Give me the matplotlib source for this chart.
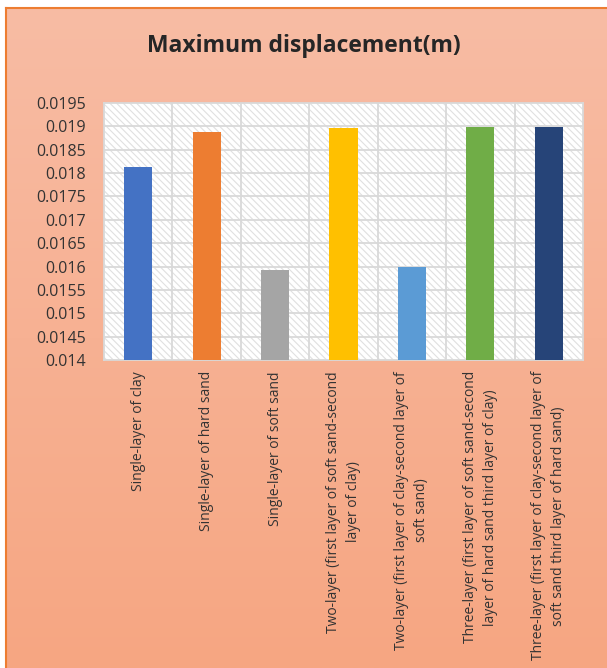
import numpy as np
import matplotlib
matplotlib.use('Agg')
from matplotlib import pyplot as plt
from matplotlib.patches import Rectangle
from matplotlib.lines import Line2D
from matplotlib.colors import LinearSegmentedColormap

categories = [
    "Single-layer of clay",
    "Single-layer of hard sand",
    "Single-layer of soft sand",
    "Two-layer (first layer of soft sand-second\nlayer of clay)",
    "Two-layer (first layer of clay-second layer of\nsoft sand)",
    "Three-layer (first layer of soft sand-second\nlayer of hard sand third layer of clay)",
    "Three-layer (first layer of clay-second layer of\nsoft sand third layer of hard sand)",
]
displacement = [0.01812, 0.01887, 0.01593, 0.01897, 0.01598, 0.01899, 0.01899]
barColors = ['#4472C4', '#ED7D31', '#A5A5A5', '#FFC000', '#5B9BD5', '#70AD47', '#264478']
yTicks = [0.014, 0.0145, 0.015, 0.0155, 0.016, 0.0165, 0.017, 0.0175, 0.018, 0.0185, 0.019, 0.0195]
yTickLabels = ['0.014', '0.0145', '0.015', '0.0155', '0.016', '0.0165', '0.017', '0.0175',
               '0.018', '0.0185', '0.019', '0.0195']

plt.rcParams['font.family'] = ['Open Sans', 'DejaVu Sans']
plt.rcParams['hatch.color'] = '#e0e0e0'
plt.rcParams['hatch.linewidth'] = 0.8

W, H = 607, 668
fig = plt.figure(figsize=(W / 100, H / 100), dpi=100)
fig.patch.set_facecolor('white')

# gradient chart area background
bg = fig.add_axes([6 / W, 0, 1 - 6 / W, 1 - 8 / H])
bg.set_axis_off()
cmap = LinearSegmentedColormap.from_list('peach', ['#F8BCA4', '#F6A682'])
bg.imshow(np.linspace(0, 1, 256).reshape(-1, 1), aspect='auto', cmap=cmap,
          extent=[0, 1, 0, 1], origin='upper')
fig.add_artist(Line2D([6 / W, 6 / W], [0, 1 - 8 / H], color='#ED7D31', lw=1.5, transform=fig.transFigure))
fig.add_artist(Line2D([6 / W, 1], [1 - 8 / H, 1 - 8 / H], color='#ED7D31', lw=1.5, transform=fig.transFigure))

ax = fig.add_axes([104 / W, 1 - 360 / H, 479 / W, 257 / H])
ax.patch.set_facecolor('white')
ax.add_patch(Rectangle((0, 0), 1, 1, transform=ax.transAxes, facecolor='white',
                       hatch='\\\\\\\\\\', edgecolor='#e0e0e0', lw=0, zorder=0))

x = np.arange(len(categories))
ax.bar(x, displacement, width=0.41, color=barColors, zorder=3)

ax.set_xlim(-0.5, len(categories) - 0.5)
ax.set_ylim(0.014, 0.0195)
ax.set_yticks(yTicks)
ax.set_yticklabels(yTickLabels, fontsize=11.5, color='#333333')
ax.set_xticks(x)
ax.set_xticklabels(categories, rotation=90, fontsize=10, color='#333333',
                   va='top', ha='center', multialignment='center', linespacing=1.45)
ax.tick_params(axis='y', length=0, pad=13)
ax.tick_params(axis='x', length=0, pad=8)

for yv in yTicks[1:-1]:
    ax.axhline(yv, color='#d9d9d9', lw=1.3, zorder=1)
for xv in np.arange(0.5, len(categories) - 0.5, 1):
    ax.axvline(xv, color='#d9d9d9', lw=1.3, zorder=1)
for s in ax.spines.values():
    s.set_color('#d9d9d9')
    s.set_linewidth(1.3)

fig.text(0.5, 1 - 46 / H, 'Maximum displacement(m)', ha='center', va='center',
         fontsize=16.5, fontweight='bold', color='#262626')

fig.savefig('out.png', dpi=100)
